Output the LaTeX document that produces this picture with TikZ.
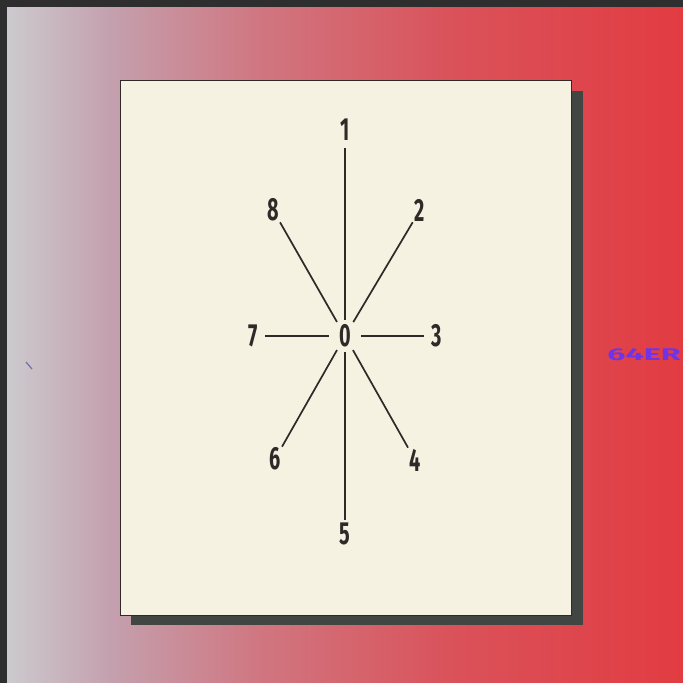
\documentclass[tikz,border=0pt]{standalone}
\usepackage{fontspec}
\newfontfamily\labfont[FakeStretch=0.62]{Fira Sans}
\newfontfamily\logofont[FakeStretch=1.9]{Fira Sans}
\definecolor{cA}{RGB}{204,202,206}
\definecolor{cB}{RGB}{196,160,174}
\definecolor{cC}{RGB}{208,118,128}
\definecolor{cD}{RGB}{218,82,90}
\definecolor{cE}{RGB}{226,60,66}
\definecolor{edge}{RGB}{46,46,46}
\definecolor{paper}{RGB}{246,242,226}
\definecolor{shadowc}{RGB}{66,70,66}
\definecolor{ink}{RGB}{45,42,40}
\definecolor{logoc}{RGB}{112,52,232}
\definecolor{tick}{RGB}{110,110,170}
\begin{document}
\begin{tikzpicture}[x=1pt,y=-1pt,
  lab/.style={font=\labfont\bfseries\fontsize{32}{34}\selectfont, text=ink, circle, inner sep=0pt, minimum size=28pt},
  ray/.style={draw=ink, line width=1.7pt}]
\useasboundingbox (0,0) rectangle (683,683);
% background
\shade[left color=cA, right color=cB] (7,7) rectangle (110.5,683);
\shade[left color=cB, right color=cC] (110,7) rectangle (260.5,683);
\shade[left color=cC, right color=cD] (260,7) rectangle (450.5,683);
\shade[left color=cD, right color=cE] (450,7) rectangle (683,683);
\fill[edge] (0,0) rectangle (683,7);
\fill[edge] (0,0) rectangle (7,683);
% shadow and paper
\fill[shadowc] (131,91) rectangle (583,625);
\filldraw[fill=paper, draw=ink, line width=0.8pt] (120,80) rectangle (571,615);
% labels
\node[lab, minimum size=32pt] (c0) at (345,336) {0};
\node[lab, minimum size=36pt] (n1) at (345,130) {1};
\node[lab] (n2) at (420,210) {2};
\node[lab, minimum size=14pt] (n3) at (437,336) {3};
\node[lab] (n4) at (415,460) {4};
\node[lab] (n5) at (345,534) {5};
\node[lab] (n6) at (275,459) {6};
\node[lab, minimum size=20pt] (n7) at (253,336) {7};
\node[lab] (n8) at (273,210) {8};
% rays
\foreach \n in {n1,n2,n3,n4,n5,n6,n7,n8} \draw[ray] (c0) -- (\n);
% logo and mark
\node[font=\logofont\bfseries\fontsize{17}{18}\selectfont, text=logoc, inner sep=0pt] (logo) at (644,355) {64ER};
\coordinate (t1) at (26,362);
\coordinate (t2) at (32,369);
\draw[tick, line width=1.2pt] (t1) -- (t2);
\end{tikzpicture}
\end{document}
